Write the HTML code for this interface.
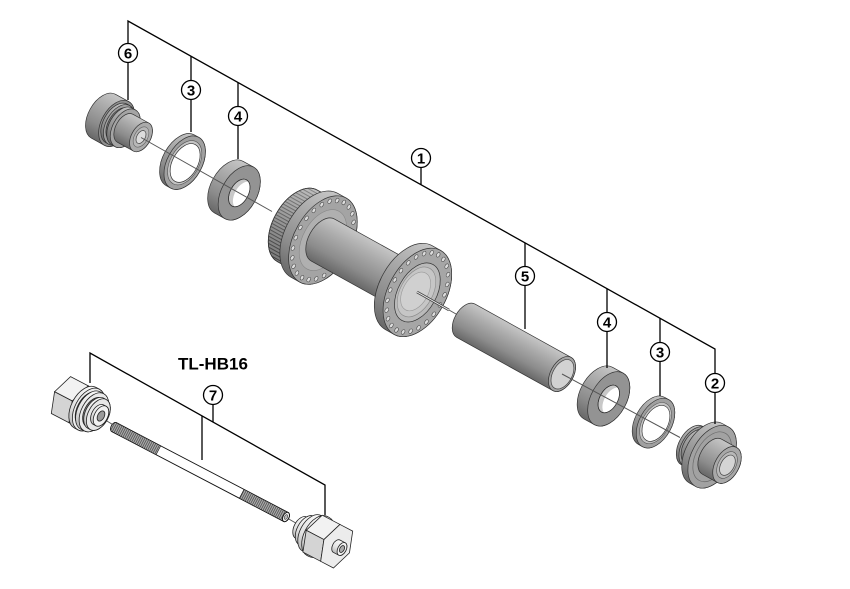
<!DOCTYPE html>
<html><head><meta charset="utf-8"><style>
html,body{margin:0;padding:0;background:#fff;}
svg{display:block;}
.lbl{font-family:"Liberation Sans",Arial,sans-serif;font-weight:bold;font-size:15px;text-anchor:middle;fill:#000;}
</style></head><body>
<svg width="850" height="589" viewBox="0 0 850 589" xmlns="http://www.w3.org/2000/svg">
<defs>
 <linearGradient id="sg" x1="0" y1="0" x2="0" y2="1">
  <stop offset="0" stop-color="#c6c6c6"/><stop offset="0.3" stop-color="#acacac"/>
  <stop offset="0.7" stop-color="#8c8c8c"/><stop offset="1" stop-color="#686868"/>
 </linearGradient>
 <linearGradient id="tg" x1="0" y1="0" x2="0" y2="1">
  <stop offset="0" stop-color="#fafafa"/><stop offset="0.6" stop-color="#e2e2e2"/><stop offset="1" stop-color="#b8b8b8"/>
 </linearGradient>
 <linearGradient id="shade" x1="0" y1="0" x2="0" y2="1">
  <stop offset="0" stop-color="#fff" stop-opacity="0.3"/><stop offset="1" stop-color="#000" stop-opacity="0.25"/>
 </linearGradient>
 <pattern id="spl" patternUnits="userSpaceOnUse" width="20" height="3.2">
  <rect width="20" height="3.2" fill="#a4a4a4"/><rect width="20" height="1" fill="#555"/>
 </pattern>
 <pattern id="thr" patternUnits="userSpaceOnUse" width="2" height="20">
  <rect width="2" height="20" fill="#b0b0b0"/><rect width="1" height="20" fill="#5c5c5c"/>
 </pattern>
 <g id="holes" fill="#dcdcdc" stroke="#4a4a4a" stroke-width="0.6">
  <ellipse cx="25.8" cy="0" rx="1.6" ry="2.5"/><ellipse cx="24.9" cy="11.1" rx="1.6" ry="2.5"/>
  <ellipse cx="22.3" cy="21.5" rx="1.6" ry="2.5"/><ellipse cx="18.2" cy="30.4" rx="1.6" ry="2.5"/>
  <ellipse cx="12.9" cy="37.2" rx="1.6" ry="2.5"/><ellipse cx="6.7" cy="41.5" rx="1.6" ry="2.5"/>
  <ellipse cx="0" cy="43" rx="1.6" ry="2.5"/><ellipse cx="-6.7" cy="41.5" rx="1.6" ry="2.5"/>
  <ellipse cx="-12.9" cy="37.2" rx="1.6" ry="2.5"/><ellipse cx="-18.2" cy="30.4" rx="1.6" ry="2.5"/>
  <ellipse cx="-22.3" cy="21.5" rx="1.6" ry="2.5"/><ellipse cx="-24.9" cy="11.1" rx="1.6" ry="2.5"/>
  <ellipse cx="-25.8" cy="0" rx="1.6" ry="2.5"/><ellipse cx="-24.9" cy="-11.1" rx="1.6" ry="2.5"/>
  <ellipse cx="-22.3" cy="-21.5" rx="1.6" ry="2.5"/><ellipse cx="-18.2" cy="-30.4" rx="1.6" ry="2.5"/>
  <ellipse cx="-12.9" cy="-37.2" rx="1.6" ry="2.5"/><ellipse cx="-6.7" cy="-41.5" rx="1.6" ry="2.5"/>
  <ellipse cx="0" cy="-43" rx="1.6" ry="2.5"/><ellipse cx="6.7" cy="-41.5" rx="1.6" ry="2.5"/>
  <ellipse cx="12.9" cy="-37.2" rx="1.6" ry="2.5"/><ellipse cx="18.2" cy="-30.4" rx="1.6" ry="2.5"/>
  <ellipse cx="22.3" cy="-21.5" rx="1.6" ry="2.5"/><ellipse cx="24.9" cy="-11.1" rx="1.6" ry="2.5"/>
 </g>
 <clipPath id="bc"><ellipse cx="6" cy="0" rx="9" ry="15"/></clipPath>
 <g id="brg" stroke="#333" stroke-width="0.7">
  <path d="M6,-29.5 L-6,-29.5 A17.7,29.5 0 0 0 -6,29.5 L6,29.5 A17.7,29.5 0 0 0 6,-29.5 Z" fill="url(#sg)"/>
  <ellipse cx="6" cy="0" rx="17.7" ry="29.5" fill="#939393"/>
  <ellipse cx="6" cy="0" rx="9" ry="15" fill="#c8c8c8"/>
  <ellipse cx="11" cy="0" rx="9" ry="15" fill="#fff" stroke="none" clip-path="url(#bc)"/>
  <ellipse cx="6" cy="0" rx="9" ry="15" fill="none"/>
 </g>
 <g id="wsh" stroke="#333" stroke-width="0.7">
  <path d="M2.5,-29 L-2.5,-29 A17.4,29 0 0 0 -2.5,29 L2.5,29 A17.4,29 0 0 0 2.5,-29 Z" fill="url(#sg)"/>
  <ellipse cx="2.5" cy="0" rx="17.4" ry="29" fill="#a0a0a0"/>
  <ellipse cx="2.5" cy="0" rx="14.4" ry="24" fill="#c4c4c4" stroke="#555" stroke-width="0.6"/>
  <ellipse cx="3" cy="0" rx="12.6" ry="21" fill="#fff"/>
 </g>
</defs>

<rect width="850" height="589" fill="#fff"/>

<!-- Part 6 -->
<g transform="translate(141,137) rotate(29)" stroke="#333" stroke-width="0.7">
 <path d="M-28,-25 L-43,-25 A15,25 0 0 0 -43,25 L-28,25 A15,25 0 0 0 -28,-25 Z" fill="url(#sg)"/>
 <ellipse cx="-28" cy="0" rx="15" ry="25" fill="#909090"/>
 <path d="M-25,-22 L-28,-22 A13.2,22 0 0 0 -28,22 L-25,22 A13.2,22 0 0 0 -25,-22 Z" fill="url(#sg)"/>
 <ellipse cx="-25" cy="0" rx="13.2" ry="22" fill="#a0a0a0"/>
 <path d="M-22,-18.5 L-25,-18.5 A11.1,18.5 0 0 0 -25,18.5 L-22,18.5 A11.1,18.5 0 0 0 -22,-18.5 Z" fill="#767676"/>
 <path d="M-18,-21 L-22,-21 A12.6,21 0 0 0 -22,21 L-18,21 A12.6,21 0 0 0 -18,-21 Z" fill="url(#sg)"/>
 <ellipse cx="-18" cy="0" rx="12.6" ry="21" fill="#a4a4a4"/>
 <path d="M0,-16 L-18,-16 A9.6,16 0 0 0 -18,16 L0,16 A9.6,16 0 0 0 0,-16 Z" fill="url(#sg)"/>
 <ellipse cx="0" cy="0" rx="9.6" ry="16" fill="#ababab"/>
 <ellipse cx="0" cy="0" rx="6.6" ry="11" fill="#b8b8b8" stroke="#666" stroke-width="0.6"/>
 <ellipse cx="0" cy="0" rx="4.2" ry="7" fill="#dcdcdc" stroke="#444" stroke-width="0.7"/>
</g>

<!-- Washer 3 left -->
<use href="#wsh" transform="translate(182.5,161.5) rotate(29)"/>
<!-- Bearing 4 left -->
<use href="#brg" transform="translate(234,190) rotate(29)"/>

<!-- axis line left -->
<line x1="141" y1="137.5" x2="272" y2="211.5" stroke="#555" stroke-width="1"/>

<!-- Hub -->
<g transform="translate(413,290) rotate(29)" stroke="#333" stroke-width="0.7">
 <path d="M-113,-41 L-132,-41 A24.6,41 0 0 0 -132,41 L-113,41 A24.6,41 0 0 0 -113,-41 Z" fill="url(#spl)"/>
 <path d="M-113,-41 L-132,-41 A24.6,41 0 0 0 -132,41 L-113,41 A24.6,41 0 0 0 -113,-41 Z" fill="url(#shade)"/>
 <path d="M-103,-48 L-113,-48 A28.8,48 0 0 0 -113,48 L-103,48 A28.8,48 0 0 0 -103,-48 Z" fill="url(#sg)"/>
 <ellipse cx="-103" cy="0" rx="28.8" ry="48" fill="#a4a4a4"/>
 <use href="#holes" x="-103" y="0"/>
 <ellipse cx="-103" cy="0" rx="20" ry="33" fill="#b0b0b0" stroke="#888" stroke-width="0.6"/>
 <path d="M-5,-24 L-103,-24 A14.4,24 0 0 0 -103,24 L-5,24 A14.4,24 0 0 0 -5,-24 Z" fill="url(#sg)"/>
 <path d="M5,-48 L-5,-48 A28.8,48 0 0 0 -5,48 L5,48 A28.8,48 0 0 0 5,-48 Z" fill="url(#sg)"/>
 <ellipse cx="5" cy="0" rx="28.8" ry="48" fill="#a6a6a6"/>
 <use href="#holes" x="5" y="0"/>
 <ellipse cx="5" cy="0" rx="19.2" ry="32" fill="#bababa"/>
 <ellipse cx="4" cy="0" rx="16.2" ry="27" fill="#c6c6c6" stroke="#8a8a8a" stroke-width="0.6"/>
 <ellipse cx="3" cy="0" rx="12.6" ry="21" fill="#d0d0d0" stroke="#999" stroke-width="0.6"/>
</g>

<!-- axis through hub bore -->
<line x1="417" y1="292" x2="449" y2="310" stroke="#444" stroke-width="2.6"/>
<line x1="417" y1="292" x2="449" y2="310" stroke="#f2f2f2" stroke-width="1"/>
<line x1="449" y1="310" x2="463" y2="318" stroke="#555" stroke-width="1"/>

<!-- Tube 5 -->
<g transform="translate(562,374) rotate(29)" stroke="#333" stroke-width="0.7">
 <path d="M0,-19 L-110,-19 A11.4,19 0 0 0 -110,19 L0,19 A11.4,19 0 0 0 0,-19 Z" fill="url(#sg)"/>
 <ellipse cx="0" cy="0" rx="11.4" ry="19" fill="#a4a4a4"/>
 <ellipse cx="0.5" cy="0" rx="9.6" ry="16" fill="#d2d2d2" stroke="#444" stroke-width="0.7"/>
</g>

<!-- Bearing 4 right, Washer 3 right -->
<use href="#brg" transform="translate(603.5,396) rotate(29)"/>
<use href="#wsh" transform="translate(653.5,422) rotate(29) scale(0.93)"/>

<!-- axis right -->
<line x1="562" y1="374" x2="680" y2="437.5" stroke="#555" stroke-width="1"/>

<!-- Part 2 -->
<g transform="translate(727,465) rotate(29)" stroke="#333" stroke-width="0.7">
 <path d="M-37,-22 L-40,-22 A13.2,22 0 0 0 -40,22 L-37,22 A13.2,22 0 0 0 -37,-22 Z" fill="url(#sg)"/>
 <ellipse cx="-37" cy="0" rx="13.2" ry="22" fill="#9c9c9c"/>
 <path d="M-24,-19 L-37,-19 A11.4,19 0 0 0 -37,19 L-24,19 A11.4,19 0 0 0 -24,-19 Z" fill="url(#sg)"/>
 <path d="M-17,-34 L-24,-34 A20.4,34 0 0 0 -24,34 L-17,34 A20.4,34 0 0 0 -17,-34 Z" fill="url(#sg)"/>
 <ellipse cx="-17" cy="0" rx="20.4" ry="34" fill="#a2a2a2"/>
 <ellipse cx="-17" cy="0" rx="16.2" ry="27" fill="none" stroke="#6a6a6a" stroke-width="0.7"/>
 <path d="M0,-20 L-17,-20 A12,20 0 0 0 -17,20 L0,20 A12,20 0 0 0 0,-20 Z" fill="url(#sg)"/>
 <ellipse cx="0" cy="0" rx="12" ry="20" fill="#a8a8a8"/>
 <ellipse cx="0" cy="0" rx="8.7" ry="14.5" fill="#b8b8b8" stroke="#555" stroke-width="0.6"/>
 <ellipse cx="0.5" cy="0" rx="6.6" ry="11" fill="#d4d4d4" stroke="#444" stroke-width="0.7"/>
</g>

<!-- Tool TL-HB16 -->
<line x1="102" y1="418" x2="115" y2="426" stroke="#555" stroke-width="1"/>
<line x1="287" y1="518" x2="301" y2="526" stroke="#555" stroke-width="1"/>

<!-- Left nut -->
<g transform="translate(101,416) rotate(27.6)" stroke="#222" stroke-width="0.8">
 <polygon points="-52.4,0 -32.4,0 -25.2,-20.8 -45.2,-20.8" fill="#f2f2f2"/>
 <polygon points="-52.4,0 -32.4,0 -25.2,20.8 -45.2,20.8" fill="#d4d4d4"/>
 <polygon points="-3.6,0 -10.8,20.8 -25.2,20.8 -32.4,0 -25.2,-20.8 -10.8,-20.8" fill="#e6e6e6"/>
 <path d="M-14,-23 L-18,-23 A13.8,23 0 0 0 -18,23 L-14,23 A13.8,23 0 0 0 -14,-23 Z" fill="url(#tg)"/>
 <ellipse cx="-14" cy="0" rx="13.8" ry="23" fill="#ededed"/>
 <path d="M-12,-19 L-14,-19 A11.4,19 0 0 0 -14,19 L-12,19 A11.4,19 0 0 0 -12,-19 Z" fill="#8a8a8a"/>
 <path d="M-8,-21 L-12,-21 A12.6,21 0 0 0 -12,21 L-8,21 A12.6,21 0 0 0 -8,-21 Z" fill="url(#tg)"/>
 <ellipse cx="-8" cy="0" rx="12.6" ry="21" fill="#eaeaea"/>
 <path d="M-6,-16 L-8,-16 A9.6,16 0 0 0 -8,16 L-6,16 A9.6,16 0 0 0 -6,-16 Z" fill="#8a8a8a"/>
 <path d="M-3,-17 L-6,-17 A10.2,17 0 0 0 -6,17 L-3,17 A10.2,17 0 0 0 -3,-17 Z" fill="url(#tg)"/>
 <ellipse cx="-3" cy="0" rx="10.2" ry="17" fill="#e8e8e8"/>
 <path d="M0,-11 L-3,-11 A6.6,11 0 0 0 -3,11 L0,11 A6.6,11 0 0 0 0,-11 Z" fill="url(#tg)"/>
 <ellipse cx="0" cy="0" rx="6.6" ry="11" fill="#f2f2f2"/>
 <ellipse cx="0" cy="0" rx="3.3" ry="5.5" fill="#9a9a9a"/>
</g>

<!-- Rod -->
<g transform="translate(286,517) rotate(27.6)" stroke="#111" stroke-width="0.9">
 <path d="M0,-5 L-194,-5 A3,5 0 0 0 -194,5 L0,5 A3,5 0 0 0 0,-5 Z" fill="#fff"/>
 <path d="M-144,-5 L-194,-5 A3,5 0 0 0 -194,5 L-144,5 Z" fill="url(#thr)" stroke-width="0.6"/>
 <path d="M0,-5 L-50,-5 L-50,5 L0,5 Z" fill="url(#thr)" stroke-width="0.6"/>
 <ellipse cx="0" cy="0" rx="3" ry="5" fill="#eee"/>
 <ellipse cx="0" cy="0" rx="1.5" ry="2.5" fill="#bbb" stroke-width="0.5"/>
</g>

<!-- Right nut -->
<g transform="translate(342,549) rotate(27.6)" stroke="#222" stroke-width="0.8">
 <path d="M-42,-12 L-46,-12 A7.2,12 0 0 0 -46,12 L-42,12 A7.2,12 0 0 0 -42,-12 Z" fill="url(#tg)"/>
 <path d="M-40,-10 L-42,-10 A6,10 0 0 0 -42,10 L-40,10 A6,10 0 0 0 -40,-10 Z" fill="#8a8a8a"/>
 <path d="M-36,-16 L-40,-16 A9.6,16 0 0 0 -40,16 L-36,16 A9.6,16 0 0 0 -36,-16 Z" fill="url(#tg)"/>
 <path d="M-34,-13 L-36,-13 A7.8,13 0 0 0 -36,13 L-34,13 A7.8,13 0 0 0 -34,-13 Z" fill="#8a8a8a"/>
 <path d="M-30,-20 L-34,-20 A12,20 0 0 0 -34,20 L-30,20 A12,20 0 0 0 -30,-20 Z" fill="url(#tg)"/>
 <path d="M-28,-17 L-30,-17 A10.2,17 0 0 0 -30,17 L-28,17 A10.2,17 0 0 0 -28,-17 Z" fill="#8a8a8a"/>
 <path d="M-26,-22 L-28,-22 A13.2,22 0 0 0 -28,22 L-26,22 A13.2,22 0 0 0 -26,-22 Z" fill="url(#tg)"/>
 <polygon points="-40.4,0 -20.4,0 -13.2,-20.8 -33.2,-20.8" fill="#f2f2f2"/>
 <polygon points="-40.4,0 -20.4,0 -13.2,20.8 -33.2,20.8" fill="#d4d4d4"/>
 <polygon points="8.4,0 1.2,20.8 -13.2,20.8 -20.4,0 -13.2,-20.8 1.2,-20.8" fill="#ececec"/>
 <path d="M0,-7 L-6,-7 A4.2,7 0 0 0 -6,7 L0,7 A4.2,7 0 0 0 0,-7 Z" fill="url(#tg)"/>
 <ellipse cx="0" cy="0" rx="4.2" ry="7" fill="#f0f0f0"/>
 <ellipse cx="0" cy="0" rx="2.2" ry="3.7" fill="#aaa"/>
</g>

<!-- Leader lines -->
<g stroke="#000" stroke-width="1.3" fill="none">
 <polyline points="128,100 128,21 715,349 715,424"/>
 <line x1="191" y1="56.2" x2="191" y2="132"/>
 <line x1="238" y1="82.5" x2="238" y2="159"/>
 <line x1="421" y1="168" x2="421" y2="184.7"/>
 <line x1="525" y1="242.8" x2="525" y2="329"/>
 <line x1="607" y1="288.7" x2="607" y2="368"/>
 <line x1="660" y1="318.3" x2="660" y2="396"/>
 <polyline points="90,383 90,353 325,485 325,515"/>
 <line x1="213" y1="404" x2="213" y2="422.1"/>
 <line x1="202" y1="415.9" x2="202" y2="460"/>
</g>

<!-- Labels -->
<g fill="#fff" stroke="#000" stroke-width="1.3">
 <circle cx="128" cy="53" r="9.5"/>
 <circle cx="191" cy="90" r="9.5"/>
 <circle cx="238" cy="116" r="9.5"/>
 <circle cx="421" cy="158" r="9.5"/>
 <circle cx="525" cy="276" r="9.5"/>
 <circle cx="607" cy="322" r="9.5"/>
 <circle cx="660" cy="352" r="9.5"/>
 <circle cx="715" cy="383" r="9.5"/>
 <circle cx="213" cy="395" r="9.5"/>
</g>
<text class="lbl" x="128" y="58.5">6</text>
<text class="lbl" x="191" y="95.5">3</text>
<text class="lbl" x="238" y="121.5">4</text>
<text class="lbl" x="421" y="163.5">1</text>
<text class="lbl" x="525" y="281.5">5</text>
<text class="lbl" x="607" y="327.5">4</text>
<text class="lbl" x="660" y="357.5">3</text>
<text class="lbl" x="715" y="388.5">2</text>
<text class="lbl" x="213" y="400.5">7</text>

<text x="178" y="369.5" font-family="'Liberation Sans', Arial, sans-serif" font-weight="bold" font-size="17" fill="#000">TL-HB16</text>
</svg>
</body></html>
